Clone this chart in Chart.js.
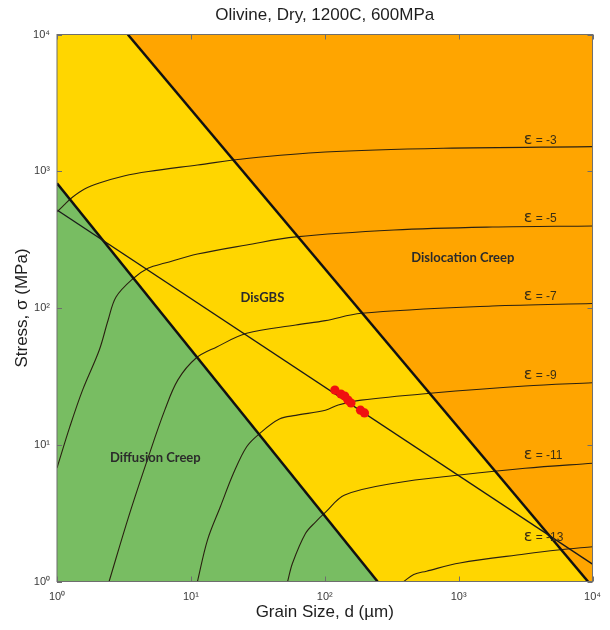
<!DOCTYPE html>
<html>
<head>
<meta charset="utf-8">
<title>Olivine, Dry, 1200C, 600MPa</title>
<script src="https://cdn.jsdelivr.net/npm/chart.js@4.4.0/dist/chart.umd.min.js"></script>
<style>
  body { margin: 0; background: #fff; }
  #wrap { width: 610px; height: 630px; position: relative; }
</style>
</head>
<body>
<div id="wrap"><canvas id="mapChart"></canvas></div>
<script>
// decade ticks shared by both log axes
const decadeTicks = [1, 10, 100, 1000, 10000];
const tickLabels = ['10⁰', '10¹', '10²', '10³', '10⁴'];

// field boundaries: grain size d (um) vs stress (MPa)
const dislocationEdgeD = [3.38, 9250];
const dislocationEdgeS = [10000, 1];
const diffusionEdgeD = [1, 248];
const diffusionEdgeS = [816, 1];

// piezometer line and measured samples
const piezoD = [1, 10000];
const piezoS = [521, 1.34];
const sampleD = [119, 132, 141, 149, 157, 185, 198];
const sampleS = [25.1, 23.5, 22.7, 21.2, 20.2, 17.9, 17.1];

// strain rate contours (log10 of rate)
const rateLevels = [-3, -5, -7, -9, -11, -13];
const rateD = [
    [1, 1.126, 1.31, 1.606, 2.07, 3.16, 4.82, 11.2, 26.1, 100.9, 766, 10000],
    [1, 1.246, 1.552, 2.07, 2.41, 2.76, 3.67, 4.82, 6.41, 11.2, 26.1, 60.8, 329, 1783, 10000],
    [2.45, 3.43, 4.82, 6.38, 8.0, 10.9, 15.6, 26.1, 60.8, 101, 187.5, 1783, 10000],
    [11.2, 13.3, 16.6, 20.8, 26.1, 32.7, 45.8, 60.8, 101, 126, 187.5, 612, 3130, 10000],
    [52.8, 57.4, 71.9, 85.2, 101, 141, 329, 1016, 3130, 10000],
    [390, 462, 575, 1021, 3130, 5510, 10000]
];
const rateS = [
    [504, 566, 648, 742, 820, 923, 996, 1111, 1240, 1383, 1472, 1513],
    [6.76, 13.5, 25.1, 49.3, 81.7, 120.3, 163, 196, 213, 248, 289, 331, 372, 391, 398],
    [1, 2.98, 8.18, 17.9, 29.8, 42.9, 51.9, 65.3, 75.1, 80.8, 91.5, 103.4, 108],
    [1, 2.01, 3.52, 6.18, 9.68, 12.1, 15.4, 16.4, 17.9, 19.5, 21.2, 23.8, 26.9, 28.4],
    [1, 1.36, 2.25, 2.72, 3.2, 4.29, 5.23, 6.01, 6.73, 7.32],
    [1, 1.125, 1.19, 1.366, 1.589, 1.70, 1.797]
];
const rateLabelD = 3060;
const rateLabelS = [1693, 455, 122.4, 32.4, 8.42, 2.12];

const fieldNames = ['DisGBS', 'Dislocation Creep', 'Diffusion Creep'];
const fieldD = [34.2, 1075, 5.42];
const fieldS = [119.4, 234, 8.07];

const pts = (xs, ys) => xs.map((x, i) => ({ x: x, y: ys[i] }));

const datasets = [
    {   // dislocation creep field fills the whole box
        data: pts([1, 10000], [10000, 10000]),
        fill: 'start', backgroundColor: '#ffa500',
        borderWidth: 0, pointRadius: 0, order: 20
    },
    {   // DisGBS field sits below the dislocation boundary
        data: pts([1].concat(dislocationEdgeD), [10000].concat(dislocationEdgeS)),
        fill: 'start', backgroundColor: '#ffd600',
        borderWidth: 0, pointRadius: 0, order: 19
    },
    {
        data: pts(diffusionEdgeD, diffusionEdgeS),
        fill: 'start', backgroundColor: '#78bd62',
        borderWidth: 0, pointRadius: 0, order: 18
    }
];

rateD.forEach((ds, i) => {
    datasets.push({
        data: pts(ds, rateS[i]),
        borderColor: '#2a2110', borderWidth: 1.1,
        tension: 0.35,
        pointRadius: 0, fill: false, order: 10
    });
});

datasets.push(
    { data: pts(dislocationEdgeD, dislocationEdgeS), borderColor: '#111', borderWidth: 2.5, pointRadius: 0, fill: false, order: 5 },
    { data: pts(diffusionEdgeD, diffusionEdgeS), borderColor: '#111', borderWidth: 2.5, pointRadius: 0, fill: false, order: 5 },
    { data: pts(piezoD, piezoS), borderColor: '#1a1a1a', borderWidth: 1.3, pointRadius: 0, fill: false, order: 4 },
    {
        data: pts(sampleD, sampleS), showLine: false,
        pointRadius: 4.6, pointBackgroundColor: '#f01010', pointBorderWidth: 0,
        order: 1
    }
);
datasets.forEach(d => { d.clip = 0; });

// frame, inward ticks, title and text labels
const decorations = {
    id: 'decorations',
    afterDraw(chart) {
        const ctx = chart.ctx;
        const a = chart.chartArea;
        const xs = chart.scales.x, ys = chart.scales.y;
        ctx.save();

        ctx.fillStyle = '#2b2b2b';
        ctx.font = 'bold 13px Lato';
        ctx.textAlign = 'center';
        ctx.textBaseline = 'middle';
        fieldNames.forEach((t, i) => {
            ctx.fillText(t, xs.getPixelForValue(fieldD[i]), ys.getPixelForValue(fieldS[i]));
        });

        ctx.textAlign = 'left';
        ctx.fillStyle = '#3a2e14';
        rateLevels.forEach((lv, i) => {
            const x = xs.getPixelForValue(rateLabelD);
            const y = ys.getPixelForValue(rateLabelS[i]);
            ctx.font = '16px "DejaVu Sans"';
            ctx.fillText('ε', x, y);
            const w = ctx.measureText('ε').width;
            ctx.font = '12px "Liberation Sans"';
            ctx.fillText(' = ' + lv, x + w, y + 1);
        });

        ctx.strokeStyle = '#6e6e6e';
        ctx.lineWidth = 1;
        ctx.strokeRect(a.left, a.top, a.right - a.left, a.bottom - a.top);
        ctx.beginPath();
        decadeTicks.forEach(v => {
            const px = Math.round(xs.getPixelForValue(v)) + 0.5;
            ctx.moveTo(px, a.bottom); ctx.lineTo(px, a.bottom - 5);
            ctx.moveTo(px, a.top); ctx.lineTo(px, a.top + 5);
            const py = Math.round(ys.getPixelForValue(v)) + 0.5;
            ctx.moveTo(a.left, py); ctx.lineTo(a.left + 5, py);
            ctx.moveTo(a.right, py); ctx.lineTo(a.right - 5, py);
        });
        ctx.stroke();

        ctx.fillStyle = '#1e1e1e';
        ctx.font = '17px "Liberation Sans"';
        ctx.textAlign = 'center';
        ctx.fillText('Olivine, Dry, 1200C, 600MPa', (a.left + a.right) / 2, 15);
        ctx.restore();
    }
};

const axisCommon = {
    type: 'logarithmic',
    min: 1,
    max: 10000,
    grid: { display: false, drawTicks: false },
    border: { display: false },
    afterBuildTicks: scale => { scale.ticks = decadeTicks.map(v => ({ value: v })); },
    ticks: {
        color: '#3a3a3a',
        font: { family: 'Liberation Sans', size: 11 },
        autoSkip: false,
        maxRotation: 0,
        callback: (value) => tickLabels[decadeTicks.indexOf(value)]
    }
};

new Chart(document.getElementById('mapChart'), {
    type: 'line',
    data: { datasets: datasets },
    options: {
        responsive: true,
        maintainAspectRatio: false,
        animation: false,
        layout: { padding: { top: 34.5, right: 8, bottom: 0, left: 0 } },
        plugins: {
            legend: { display: false },
            tooltip: { enabled: false },
            title: { display: false }
        },
        scales: {
            x: Object.assign({}, axisCommon, {
                position: 'bottom',
                ticks: Object.assign({}, axisCommon.ticks, { padding: 9 }),
                title: {
                    display: true, text: 'Grain Size, d (µm)', color: '#1e1e1e',
                    font: { family: 'Liberation Sans', size: 17 },
                    padding: { top: 0, bottom: 7 }
                },
                afterFit: scale => { scale.height = 48.5; }
            }),
            y: Object.assign({}, axisCommon, {
                position: 'left',
                ticks: Object.assign({}, axisCommon.ticks, { padding: 7 }),
                title: {
                    display: true, text: 'Stress, σ (MPa)', color: '#1e1e1e',
                    font: { family: 'Liberation Sans', size: 17 },
                    padding: { top: 12, bottom: 0 }
                },
                afterFit: scale => { scale.width = 57; }
            })
        }
    },
    plugins: [decorations]
});
</script>
</body>
</html>
